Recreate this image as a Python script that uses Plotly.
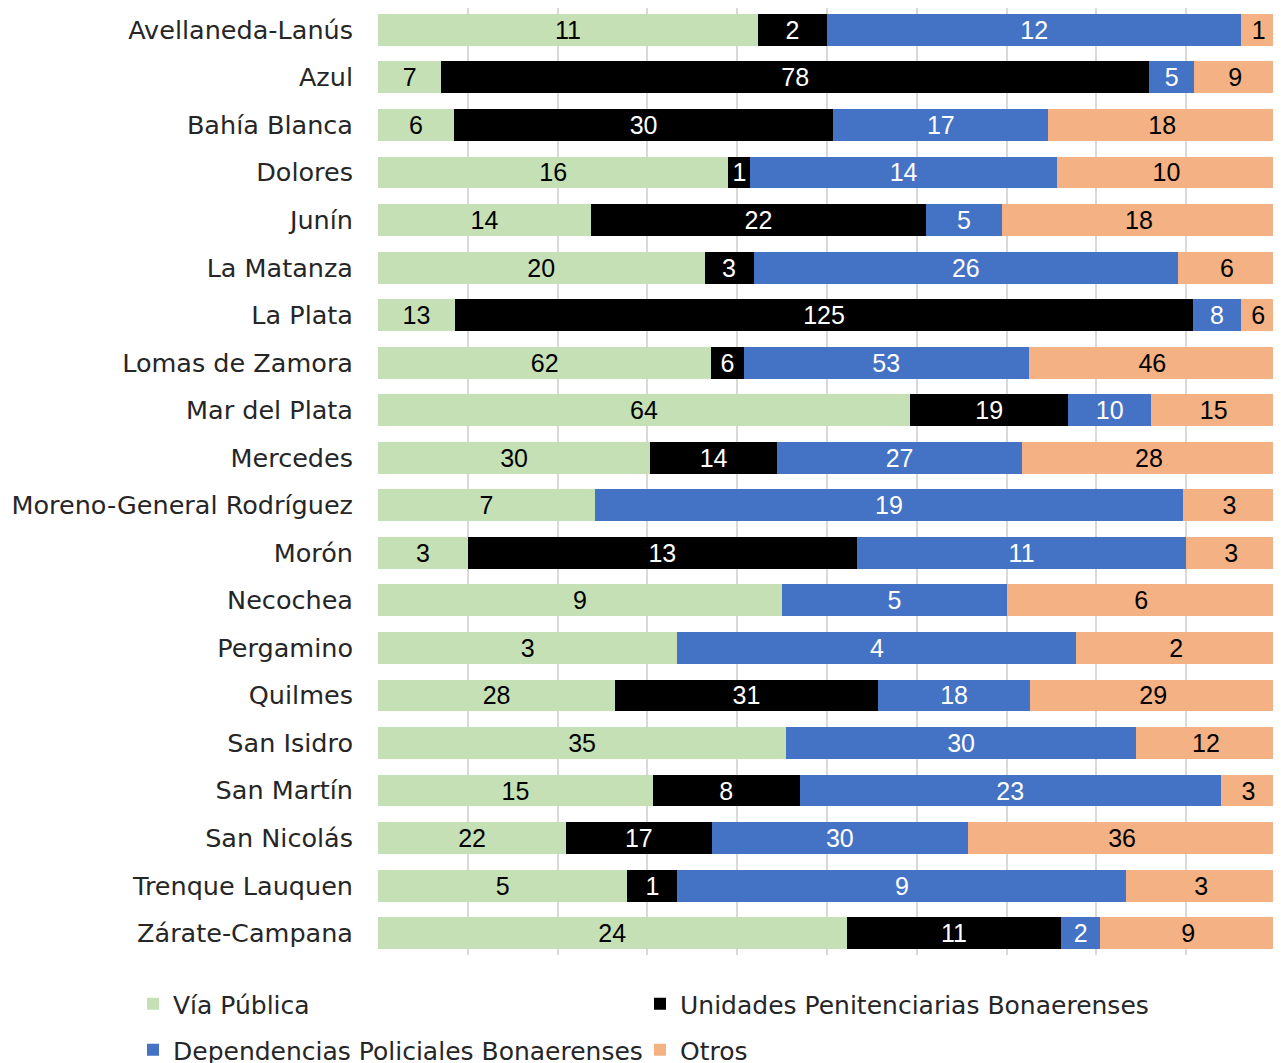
import plotly.graph_objects as go

categories = ["Avellaneda-Lanús", "Azul", "Bahía Blanca", "Dolores", "Junín", "La Matanza",
              "La Plata", "Lomas de Zamora", "Mar del Plata", "Mercedes",
              "Moreno-General Rodríguez", "Morón", "Necochea", "Pergamino", "Quilmes",
              "San Isidro", "San Martín", "San Nicolás", "Trenque Lauquen", "Zárate-Campana"]

via_publica = [11, 7, 6, 16, 14, 20, 13, 62, 64, 30, 7, 3, 9, 3, 28, 35, 15, 22, 5, 24]
unidades = [2, 78, 30, 1, 22, 3, 125, 6, 19, 14, None, 13, None, None, 31, None, 8, 17, 1, 11]
dependencias = [12, 5, 17, 14, 5, 26, 8, 53, 10, 27, 19, 11, 5, 4, 18, 30, 23, 30, 9, 2]
otros = [1, 9, 18, 10, 18, 6, 6, 46, 15, 28, 3, 3, 6, 2, 29, 12, 3, 36, 3, 9]

series = [
    ("Vía Pública", via_publica, "#c5e0b4", "black", "legend"),
    ("Unidades Penitenciarias Bonaerenses", unidades, "#000000", "white", "legend2"),
    ("Dependencias Policiales Bonaerenses", dependencias, "#4472c4", "white", "legend3"),
    ("Otros", otros, "#f4b183", "black", "legend4"),
]

LFONT = "DejaVu Sans"
LFS = 25.5
LEGFS = 25
NFONT = "Liberation Sans"
NFS = 25
TXT = "#262626"
fig = go.Figure()
for name, vals, color, tcolor, leg in series:
    fig.add_trace(go.Bar(
        name=name, y=categories, x=vals, orientation="h",
        marker=dict(color=color, line=dict(width=0)),
        text=["" if v is None else str(v) for v in vals],
        textposition="inside", insidetextanchor="middle", textangle=0,
        textfont=dict(color=tcolor, size=NFS, family=NFONT),
        legend=leg, showlegend=True, hoverinfo="skip",
    ))

legend_common = dict(orientation="h", xref="paper", yref="paper",
                     xanchor="left", yanchor="middle",
                     font=dict(size=LEGFS, family=LFONT, color=TXT),
                     itemclick=False, bgcolor="rgba(0,0,0,0)")
col1 = (125 - 370) / 898
col2 = (632 - 370) / 898
row1 = (947 - 996) / 947
row2 = (947 - 1042) / 947

fig.update_layout(
    barmode="stack", barnorm="percent", bargap=0.33,
    width=1281, height=1063, showlegend=True,
    margin=dict(l=370, r=13, t=0, b=116, autoexpand=False),
    paper_bgcolor="white", plot_bgcolor="white",
    font=dict(family=LFONT, size=LFS, color=TXT),
    uniformtext=dict(minsize=NFS, mode="show"),
    xaxis=dict(range=[0, 100], dtick=10, showgrid=True, gridcolor="#d9d9d9", gridwidth=2,
               showticklabels=False, zeroline=False, showline=False, automargin=False),
    yaxis=dict(autorange=False, range=[19.46, -0.46], showgrid=False, ticks="",
               automargin=False, ticklabelstandoff=24,
               tickfont=dict(size=LFS, family=LFONT, color=TXT)),
    legend=dict(x=col1, y=row1, **legend_common),
    legend2=dict(x=col2, y=row1, **legend_common),
    legend3=dict(x=col1, y=row2, **legend_common),
    legend4=dict(x=col2, y=row2, **legend_common),
)

fig.write_html("out.html")
